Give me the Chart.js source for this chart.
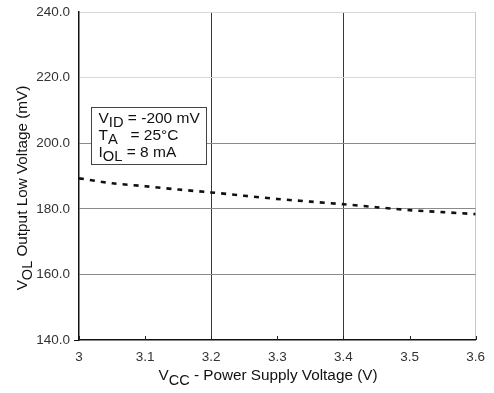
<!DOCTYPE html>
<html>
<head>
<meta charset="utf-8">
<script src="https://cdn.jsdelivr.net/npm/chart.js@4.4.1/dist/chart.umd.min.js"></script>
<style>
  html, body { margin: 0; padding: 0; background: #fff; }
  #wrap { width: 494px; height: 393px; }
</style>
</head>
<body>
<div id="wrap"><canvas id="volChart" width="494" height="393"></canvas></div>
<script>
// VOL vs VCC
var vccValues = [3.00, 3.05, 3.10, 3.15, 3.20, 3.25, 3.30, 3.35, 3.40, 3.45, 3.50, 3.55, 3.60];
var volValues = [189.3, 187.8, 186.9, 185.9, 185.0, 184.0, 183.0, 182.2, 181.4, 180.5, 179.6, 179.0, 178.4];
var xTicks = [3, 3.1, 3.2, 3.3, 3.4, 3.5, 3.6];
var yTicks = [140, 160, 180, 200, 220, 240];

var FONT = "'Liberation Sans', Arial, sans-serif";

// draws text with subscript parts: parts = [[text, isSub], ...]
function drawRich(ctx, parts, x, y, size) {
  var cx = x;
  parts.forEach(function (p) {
    var s = p[1] ? size * 0.95 : size;
    ctx.font = s + "px " + FONT;
    ctx.fillText(p[0], cx, p[1] ? y + size * 0.3 : y);
    cx += ctx.measureText(p[0]).width;
  });
  return cx - x;
}
function richWidth(ctx, parts, size) {
  var w = 0;
  parts.forEach(function (p) {
    ctx.font = (p[1] ? size * 0.95 : size) + "px " + FONT;
    w += ctx.measureText(p[0]).width;
  });
  return w;
}

var extras = {
  id: "extras",
  afterDraw: function (chart) {
    var ctx = chart.ctx;
    var xs = chart.scales.x, ys = chart.scales.y;
    var area = chart.chartArea;
    ctx.save();
    ctx.fillStyle = "#111";
    ctx.textBaseline = "alphabetic";

    // small inward ticks on the x axis
    ctx.strokeStyle = "#222";
    ctx.lineWidth = 1;
    xTicks.forEach(function (v) {
      var px = Math.round(xs.getPixelForValue(v)) + 0.5;
      ctx.beginPath();
      ctx.moveTo(px, area.bottom);
      ctx.lineTo(px, area.bottom - 4);
      ctx.stroke();
    });

    // condition box
    var bx0 = Math.round(xs.getPixelForValue(3.018)) + 0.5;
    var bx1 = Math.round(xs.getPixelForValue(3.1925)) + 0.5;
    var by0 = Math.round(ys.getPixelForValue(211.2)) + 0.5;
    var by1 = Math.round(ys.getPixelForValue(193.6)) + 0.5;
    ctx.fillStyle = "#fff";
    ctx.fillRect(bx0, by0, bx1 - bx0, by1 - by0);
    ctx.strokeStyle = "#444";
    ctx.strokeRect(bx0, by0, bx1 - bx0, by1 - by0);
    ctx.fillStyle = "#111";
    var tx = bx0 + 7;
    var fs = 15.5;
    drawRich(ctx, [["V", false], ["ID", true], [" = -200 mV", false]], tx, by0 + 15, fs);
    drawRich(ctx, [["T", false], ["A", true]], tx, by0 + 32, fs);
    ctx.font = fs + "px " + FONT;
    ctx.fillText("= 25\u00B0C", tx + 32, by0 + 32);
    drawRich(ctx, [["I", false], ["OL", true], [" = 8 mA", false]], tx, by0 + 49, fs);

    // x axis title
    var xt = [["V", false], ["CC", true], [" - Power Supply Voltage (V)", false]];
    var xw = richWidth(ctx, xt, 15.3);
    drawRich(ctx, xt, 268 - xw / 2, 380, 15.3);

    // y axis title, rotated
    var yt = [["V", false], ["OL", true], [" Output Low Voltage (mV)", false]];
    var yw = richWidth(ctx, yt, 15.3);
    ctx.translate(27, 188);
    ctx.rotate(-Math.PI / 2);
    drawRich(ctx, yt, -yw / 2, 0, 15.3);
    ctx.restore();
  }
};

new Chart(document.getElementById("volChart"), {
  type: "line",
  data: {
    datasets: [
      {
        data: vccValues.map(function (v, i) { return { x: v, y: volValues[i] }; }),
        borderColor: "#111",
        borderWidth: 2.6,
        borderDash: [5, 6],
        pointRadius: 0,
        tension: 0.3,
        fill: false
      }
    ]
  },
  options: {
    responsive: false,
    animation: false,
    devicePixelRatio: 1,
    layout: { padding: { left: 0, top: 10, right: 13, bottom: 0 } },
    plugins: { legend: { display: false }, tooltip: { enabled: false } },
    scales: {
      x: {
        type: "linear",
        min: 3,
        max: 3.6,
        afterBuildTicks: function (s) { s.ticks = xTicks.map(function (v) { return { value: v }; }); },
        afterFit: function (s) { s.height = 53; },
        border: { color: "#111", width: 1.5 },
        grid: {
          drawTicks: false,
          color: function (c) {
            var k = Math.round(c.tick.value * 10);
            if (k === 32 || k === 34) return "#3a3a3a";
            if (k === 36) return "#c8c8c8";
            return "rgba(0,0,0,0)";
          },
          lineWidth: 1
        },
        ticks: {
          padding: 9,
          color: "#333",
          font: { family: FONT, size: 13.5 },
          maxRotation: 0,
          callback: function (v) { return String(Math.round(v * 10) / 10); }
        }
      },
      y: {
        type: "linear",
        min: 140,
        max: 240,
        afterBuildTicks: function (s) { s.ticks = yTicks.map(function (v) { return { value: v }; }); },
        afterFit: function (s) { s.width = 79; },
        border: { color: "#111", width: 1.5 },
        grid: {
          tickLength: 5,
          tickColor: function (c) { return c.tick.value === 140 ? "#111" : "rgba(0,0,0,0)"; },
          color: function (c) {
            var v = c.tick.value;
            if (v >= 220) return "#d8d8d8";
            if (v === 140) return "rgba(0,0,0,0)";
            return "#8a8a8a";
          },
          lineWidth: 1
        },
        ticks: {
          padding: 4,
          color: "#333",
          font: { family: FONT, size: 13.5 },
          callback: function (v) { return v.toFixed(1); }
        }
      }
    }
  },
  plugins: [extras]
});
</script>
</body>
</html>
